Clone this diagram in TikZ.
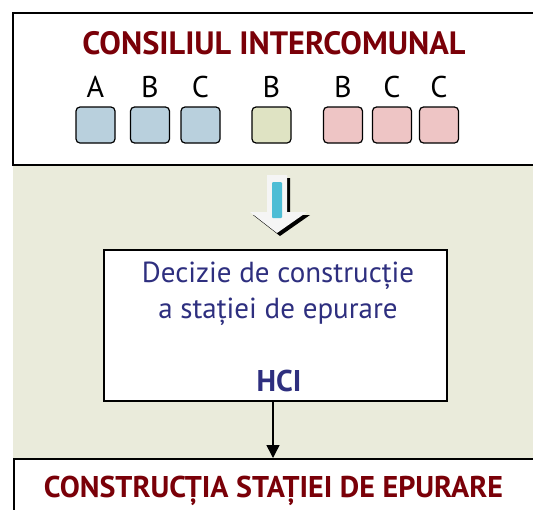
\documentclass[tikz,border=0pt]{standalone}
\usepackage{fontspec}
\setmainfont{PT Sans}
\usetikzlibrary{positioning,arrows.meta}
\definecolor{titlered}{HTML}{7A0008}
\definecolor{navy}{HTML}{2E2F7F}
\definecolor{panelgreen}{HTML}{EAEBDB}
\definecolor{boxblue}{HTML}{B9D0DD}
\definecolor{boxgreen}{HTML}{DFE3C3}
\definecolor{boxpink}{HTML}{EEC5C5}
\definecolor{barcyan}{HTML}{4DBDD5}
\tikzset{
  member/.style={draw=black,line width=1.2pt,rounded corners=4pt,fill=#1,
    minimum width=39pt,minimum height=36pt,inner sep=0pt},
  letter/.style={anchor=base,font=\fontsize{30}{30}\selectfont},
  heading/.style={anchor=base,text=titlered,font=\bfseries\fontsize{30}{30}\selectfont},
  decision/.style={anchor=base,text=navy,font=\fontsize{29}{29}\selectfont}
}
\begin{document}
\begin{tikzpicture}[x=1pt,y=-1pt]
\useasboundingbox (0,0) rectangle (533,509);
\fill[panelgreen] (13,165) rectangle (540,458);
\draw[line width=2pt,fill=white] (13,13) rectangle (545,165);
\node[heading,font=\bfseries\fontsize{32.3}{32}\selectfont] (council) at (274,54) {CONSILIUL INTERCOMUNAL};
\foreach \x/\l/\c [count=\i] in {95.5/A/boxblue,150/B/boxblue,200.5/C/boxblue,271.5/B/boxgreen,343/B/boxpink,392/C/boxpink,439/C/boxpink}{
  \node[member=\c] (m\i) at (\x,125) {};
  \node[letter] (l\i) at (\x,97) {\l};
}
\fill[black] (270,178) -- (290,178) -- (290,215) -- (310,215) -- (280,236) -- (253,215) -- (270,215) -- cycle;
\fill[white!96!black] (267,175) -- (287,175) -- (287,212) -- (307,212) -- (277,233) -- (250,212) -- (267,212) -- cycle;
\fill[barcyan,rounded corners=1pt] (272,182) rectangle (282,218);
\node[draw,line width=1.5pt,fill=white,minimum width=343pt,minimum height=151pt,inner sep=0pt] (dec) at (275.5,325.5) {};
\node[decision] (line1) at (278,282) {Decizie de construcție};
\node[decision] (line2) at (278,318) {a stației de epurare};
\node[decision,font=\bfseries\fontsize{30}{30}\selectfont] (hci) at (279,391) {HCI};
\node[draw,line width=2pt,fill=white,minimum width=532pt,minimum height=62pt,anchor=north west,inner sep=0pt] (constr) at (13,458) {};
\node[heading] (result) at (273.5,497) {CONSTRUCȚIA STAȚIEI DE EPURARE};
\draw[line width=1.5pt,-{Triangle[length=13pt,width=13pt]}] (dec.south -| 273,0) -- (constr.north -| 273,0);
\end{tikzpicture}
\end{document}
